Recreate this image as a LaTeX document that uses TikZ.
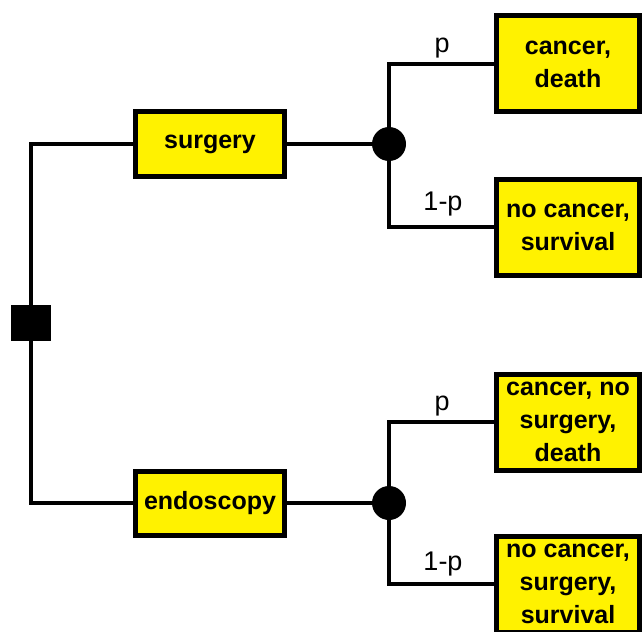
\documentclass[tikz,border=0pt]{standalone}
\usepackage{fontspec}
\setmainfont{Liberation Sans}
\begin{document}
\begin{tikzpicture}[x=1pt,y=-1pt,
  conn/.style={line width=4pt},
  optbox/.style={draw=black,line width=5pt,fill=yellow,minimum width=149pt,minimum height=64pt,inner sep=0pt,
     font=\bfseries\fontsize{25}{33}\selectfont},
  outbox/.style={draw=black,line width=5pt,fill=yellow,minimum width=143pt,minimum height=96pt,inner sep=0pt,align=center,
     font=\bfseries\fontsize{25}{33}\selectfont},
  chance/.style={circle,fill=black,minimum size=34pt,inner sep=0pt},
  decision/.style={rectangle,fill=black,minimum width=40pt,minimum height=36pt,inner sep=0pt},
  prob/.style={anchor=base,inner sep=0pt,font=\fontsize{27}{30}\selectfont}
]
\clip (0,0) rectangle (644,631);
\useasboundingbox (0,0) rectangle (644,631);
\fill[white] (0,0) rectangle (644,631);

% nodes
\node[decision] (sq) at (31,323) {};
\node[optbox] (surg) at (210,144) {surgery};
\node[optbox] (endo) at (210,503) {endoscopy};
\node[chance] (c1) at (389,144) {};
\node[chance] (c2) at (389,503) {};
\node[outbox] (o1) at (568,64) {cancer,\\death};
\node[outbox] (o2) at (568,227) {no cancer,\\survival};
\node[outbox] (o3) at (568,422) {cancer, no\\surgery,\\death};
\node[outbox] (o4) at (568,584) {no cancer,\\surgery,\\survival};

% connectors
\draw[conn] (sq.north) |- (surg.west);
\draw[conn] (sq.south) |- (endo.west);
\draw[conn] (surg.east) -- (c1.west);
\draw[conn] (endo.east) -- (c2.west);
\draw[conn] (c1.north) |- (o1.west);
\draw[conn] (c1.south) |- (o2.west);
\draw[conn] (c2.north) |- (o3.west);
\draw[conn] (c2.south) |- (o4.west);

% probability labels
\node[prob] (p1) at (442,53) {p};
\node[prob] (q1) at (443,210) {1-p};
\node[prob] (p2) at (442,410) {p};
\node[prob] (q2) at (443,570) {1-p};
\end{tikzpicture}
\end{document}
